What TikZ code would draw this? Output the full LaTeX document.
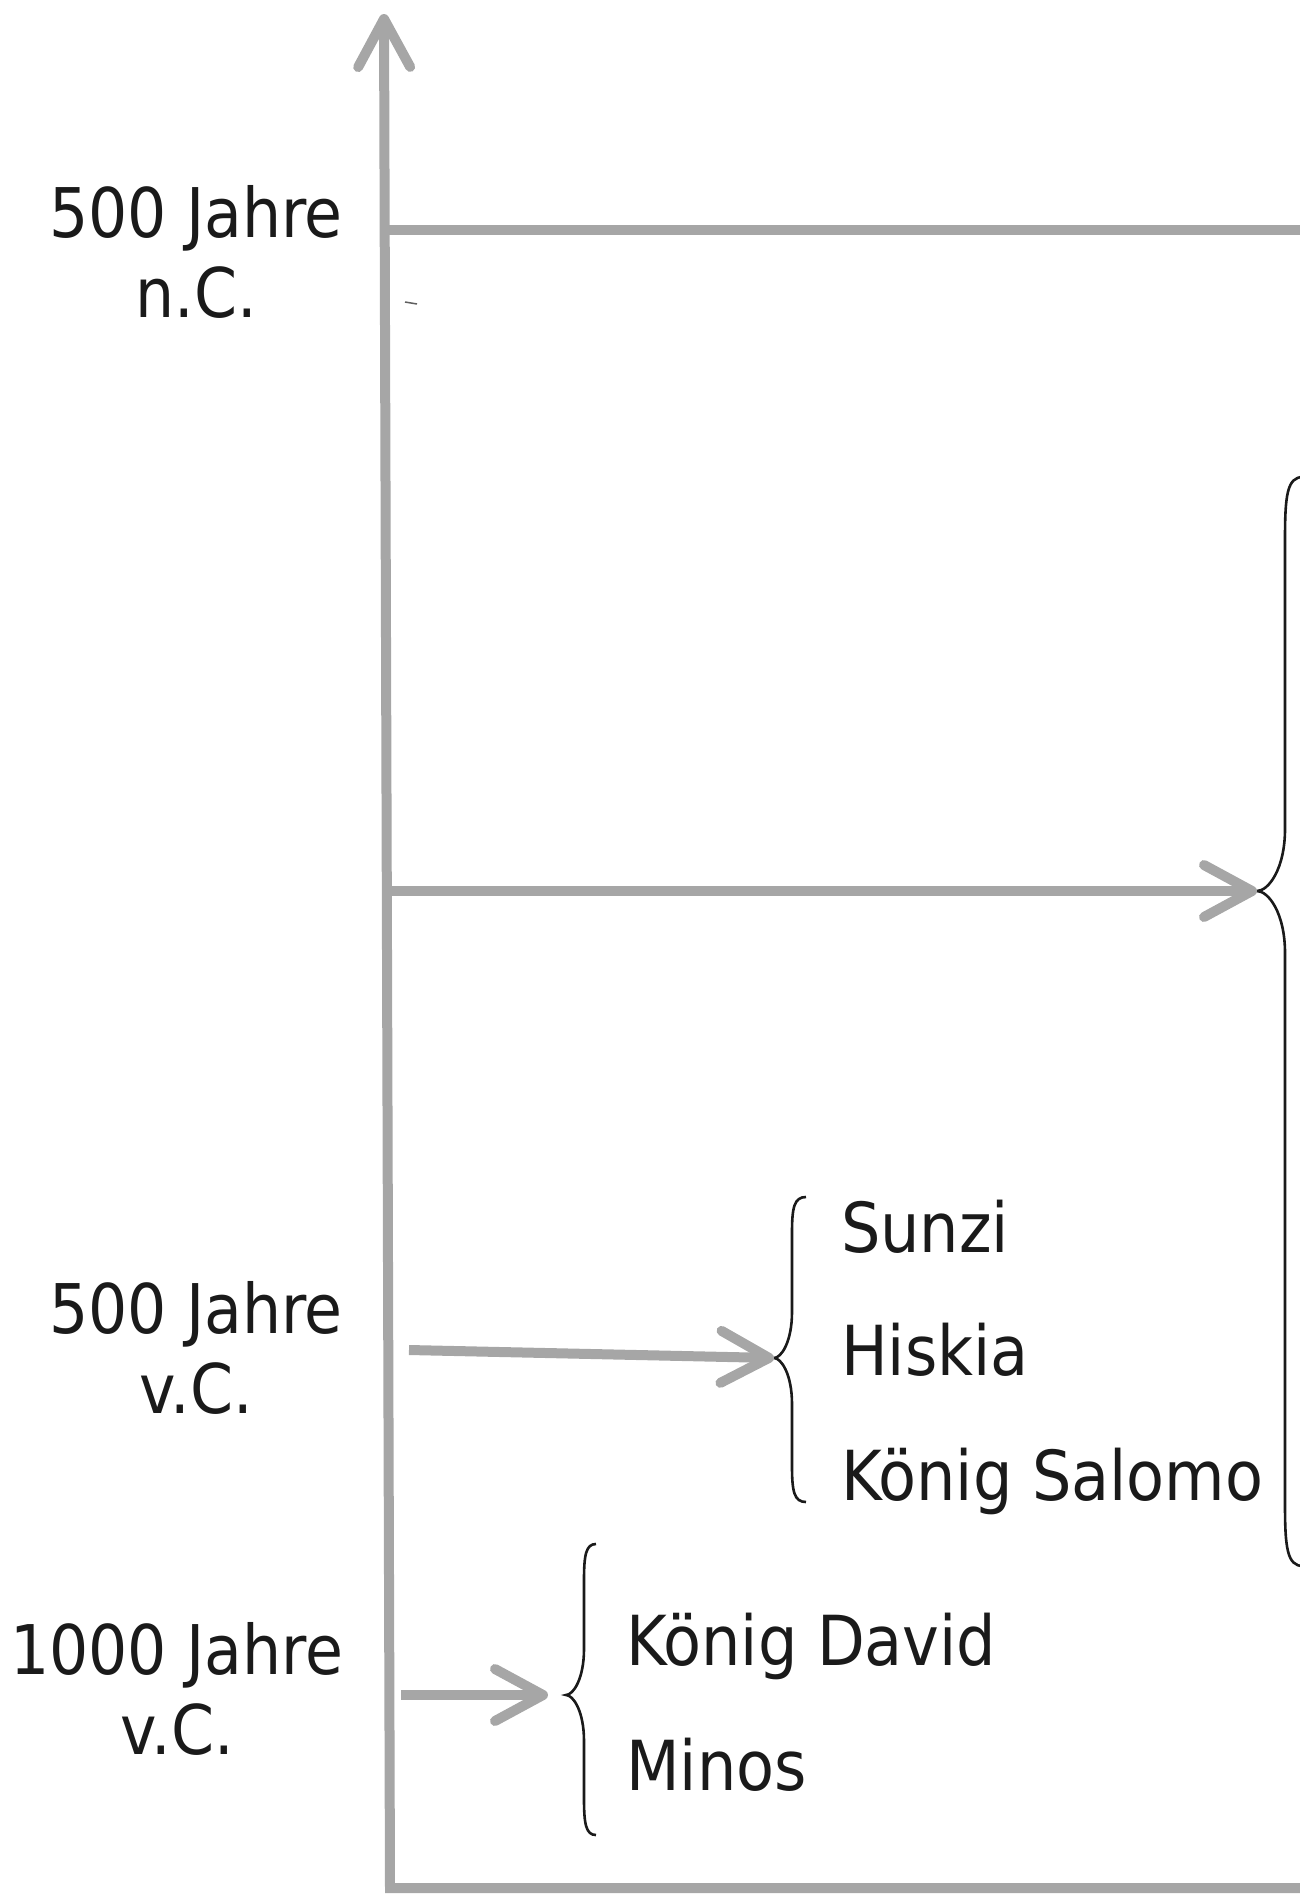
\documentclass[tikz,border=0pt]{standalone}
\usepackage{fontspec}
\setmainfont{DejaVu Sans Condensed}
\usetikzlibrary{arrows.meta}
\definecolor{axisgray}{HTML}{A6A6A6}
\definecolor{inkblack}{HTML}{1A1A1A}
% tip x, arm x, end x ; top y, tip y, bottom y ; hook, bend
\def\leftbrace[#1](#2,#3,#4)(#5,#6,#7)(#8,#9){\draw[#1] (#4,#5) .. controls ({#3+2},#5) and (#3,{#5+0.3*#8}) .. (#3,{#5+#8})
	-- (#3,{#6-#9}) .. controls (#3,{#6-0.35*#9}) and ({#2+0.4*(#3-#2)},#6) .. (#2,#6)
	.. controls ({#2+0.4*(#3-#2)},#6) and (#3,{#6+0.35*#9}) .. (#3,{#6+#9})
	-- (#3,{#7-#8}) .. controls (#3,{#7-0.3*#8}) and ({#3+2},#7) .. (#4,#7);}

\begin{document}
\begin{tikzpicture}[x=1pt,y=-1pt,
	axis line/.style={line width=10pt, draw=axisgray},
	time arrow/.style={axis line, -{Straight Barb[length=48pt,width=52pt,round]}},
	brace line/.style={line width=2.6pt, draw=inkblack},
	year label/.style={align=center, inner sep=0pt, text=inkblack, font=\fontsize{68.5}{80}\selectfont},
	item label/.style={anchor=base west, inner sep=0pt, text=inkblack, font=\fontsize{69}{80}\selectfont}]
	%%%%% START %%%%%
	\useasboundingbox (0,0) rectangle (1300,1896);
	
	\coordinate (origin) at (390,1888);
	\coordinate (axis top) at (384,14);
	\coordinate (bottom end) at (1300,1888);
	\draw[time arrow] (bottom end) -- (origin) -- (axis top);
	
	\coordinate (ad start) at (385,230);
	\coordinate (ad end) at (1300,230);
	\draw[axis line] (ad start) -- (ad end);
	\draw[line width=1.5pt, draw=inkblack!70] (405,302) -- (417,304);
	
	% braces
	\coordinate (big tip) at (1257,891);
	\coordinate (mid tip) at (774,1358);
	\coordinate (low tip) at (548,1695);
	\leftbrace[brace line](1257,1285,1303)(477,891,1566)(62,62)
	\leftbrace[brace line](774,792,806)(1197,1358,1502)(36,46)
	\leftbrace[brace line](566,584,596)(1544,1695,1835)(36,46)
	
	% arrows
	\coordinate (big start) at (389,891);
	\coordinate (mid start) at (409,1350);
	\coordinate (low start) at (401,1695);
	\draw[time arrow] (big start) -- (big tip);
	\draw[time arrow] (mid start) -- (mid tip);
	\draw[time arrow] (low start) -- (low tip);
	
	% years
	\node[year label] (ad500) at (196,252) {500 Jahre\\n.C.};
	\node[year label] (bc500) at (196,1348) {500 Jahre\\v.C.};
	\node[year label] (bc1000) at (177,1689) {1000 Jahre\\v.C.};
	
	% names
	\node[item label] (sunzi) at (841,1252) {Sunzi};
	\node[item label] (hiskia) at (841,1375) {Hiskia};
	\node[item label] (salomo) at (841,1500) {König Salomo};
	\node[item label] (david) at (626,1665) {König David};
	\node[item label] (minos) at (626,1790) {Minos};
	%%%%% END %%%%%
\end{tikzpicture}
\end{document}
